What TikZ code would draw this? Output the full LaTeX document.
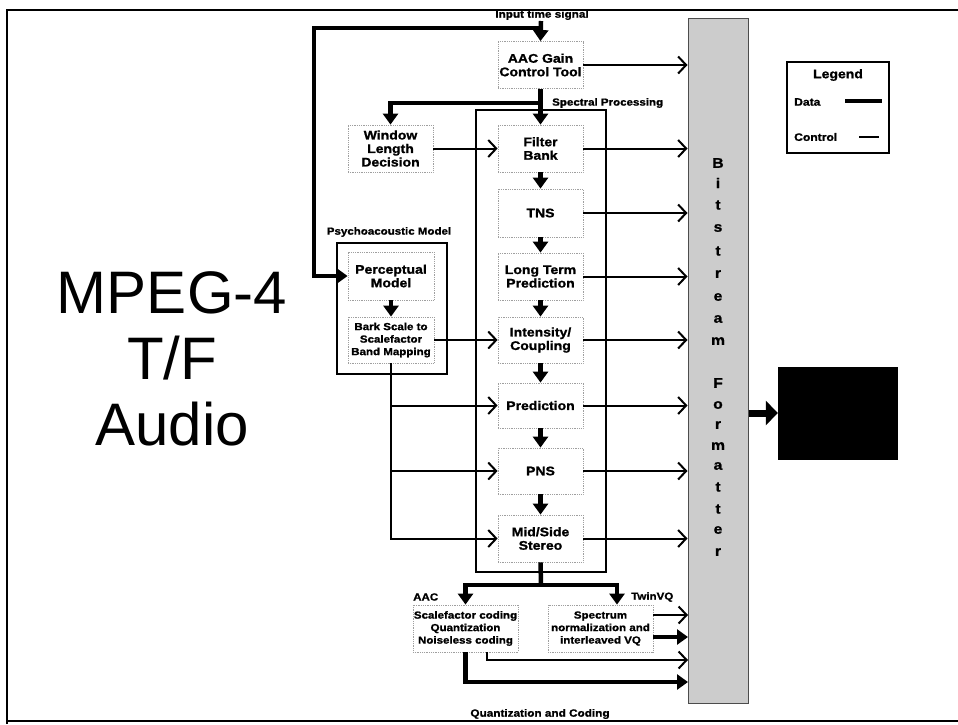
\documentclass[tikz,border=0pt]{standalone}
\usepackage{fontspec}
\setmainfont{Liberation Sans}
\newfontfamily\hv{Liberation Sans}[FakeStretch=1.12, BoldFeatures={FakeBold=1.2}]
\usetikzlibrary{arrows.meta,calc}
\begin{document}
\begin{tikzpicture}[x=1pt,y=-1pt,
  proc/.style={draw=gray!75, densely dotted, line width=0.8pt, fill=white, align=center, inner sep=1pt,
    font=\hv\bfseries\fontsize{12.5}{13.5}\selectfont, minimum width=85pt, minimum height=47pt},
  smallproc/.style={proc, font=\hv\bfseries\fontsize{10.3}{12.5}\selectfont},
  lbl/.style={font=\hv\bfseries\fontsize{10.3}{12}\selectfont, inner sep=0pt},
  solidbox/.style={draw=black, line width=1.6pt},
  data/.style={line width=4.5pt, -{Triangle[length=11pt,width=15pt]}},
  ctrl/.style={line width=2pt, -{Straight Barb[length=8pt,width=17pt]}},
  letter/.style={font=\hv\bfseries\fontsize{14}{14}\selectfont, inner sep=0pt}
]
\useasboundingbox (0,0) rectangle (958,724);
\fill[white] (0,0) rectangle (958,724);

% title
\node[font=\fontsize{60}{66}\selectfont, align=center] (title) at (172,359) {MPEG-4\\T/F\\Audio};

% container boxes
\node[solidbox, minimum width=130pt, minimum height=462pt, inner sep=0pt] (sp) at (541,341) {};
\node[solidbox, line width=2.2pt, minimum width=110pt, minimum height=131pt, inner sep=0pt] (psy) at (392,308.5) {};
\node[draw=gray!60!black, line width=1pt, fill=gray!40, minimum width=60pt, minimum height=685pt, inner sep=0pt] (bsf) at (718,360.5) {};
\node[fill=black, draw=black, minimum width=119pt, minimum height=92pt, inner sep=0pt] (out) at (837.5,413) {};

% labels
\node[lbl, anchor=west] (splbl) at (552,103) {Spectral Processing};
\node[lbl] (psylbl) at (389,232) {Psychoacoustic Model};
\node[lbl, anchor=west] (aaclbl) at (413,597) {AAC};
\node[lbl, anchor=west] (tvqlbl) at (631,597) {TwinVQ};
\node[lbl, font=\hv\bfseries\fontsize{10.5}{12}\selectfont] (qc) at (540,714) {Quantization and Coding};
\node[lbl, font=\hv\bfseries\fontsize{10.5}{12}\selectfont] (its) at (542,15) {Input time signal};

% process boxes
\node[proc] (gain) at (540.5,65) {AAC Gain\\Control Tool};
\node[proc] (wld) at (390.5,148.5) {Window\\Length\\Decision};
\node[proc] (fb) at (540.5,148.5) {Filter\\Bank};
\node[proc, minimum height=48pt] (tns) at (540.5,213) {TNS};
\node[proc] (ltp) at (540.5,276.5) {Long Term\\Prediction};
\node[proc, minimum height=46pt] (ic) at (540.5,340) {Intensity/\\Coupling};
\node[proc, minimum height=45pt] (pred) at (540.5,405.5) {Prediction};
\node[proc, minimum height=46pt] (pns) at (540.5,471) {PNS};
\node[proc] (ms) at (540.5,538.5) {Mid/Side\\Stereo};
\node[proc, minimum width=86pt, minimum height=48pt] (pm) at (391,276) {Perceptual\\Model};
\node[smallproc, minimum width=86pt, minimum height=46pt] (bark) at (391,340) {Bark Scale to\\Scalefactor\\Band Mapping};
\node[smallproc, minimum width=105pt] (aac) at (465.5,628.5) {Scalefactor coding\\Quantization\\Noiseless coding};
\node[smallproc, minimum width=105pt] (tvq) at (600.5,628.5) {Spectrum\\normalization and\\interleaved VQ};

% bitstream formatter letters
\foreach \l/\yy [count=\i] in {B/163,i/183,t/205,s/228,t/251,r/274,e/297,a/319,m/341,
  F/383,o/405,r/425,m/446,a/466,t/487,t/509,e/530,r/552}
  \node[letter] (L\i) at (718,\yy) {\l};

% legend
\node[draw=black, line width=1.2pt, minimum width=102pt, minimum height=91pt, inner sep=0pt] (legend) at (838,107.5) {};
\node[font=\hv\bfseries\fontsize{12.5}{14}\selectfont] (legt) at (838,75) {Legend};
\node[lbl, font=\hv\bfseries\fontsize{10.8}{12}\selectfont, anchor=west] (legd) at (794,102) {Data};
\node[lbl, font=\hv\bfseries\fontsize{10.8}{12}\selectfont, anchor=west] (legc) at (794,137) {Control};
\draw[line width=4pt] (845,101) -- (882,101);
\draw[line width=1.8pt] (859,137) -- (879,137);

% coordinates
\coordinate (topin) at (541,21);
\coordinate (j1) at (541,28);
\coordinate (c1) at (314,28);
\coordinate (j2) at (541,103);
\coordinate (j3) at (541,585);
\coordinate (tvqin) at (617,585);
\coordinate (q1) at (688,660);
\coordinate (q2) at (688,682);
\coordinate (t1) at (688,615);
\coordinate (t2) at (688,637);

% data connectors
\draw[data] (topin) -- (gain.north);
\draw[data] (j1) -- (c1) |- (pm.west);
\draw[data] (gain.south) -- (fb.north);
\draw[data] (j2) -| (wld.north);
\draw[data] (fb.south) -- (tns.north);
\draw[data] (tns.south) -- (ltp.north);
\draw[data] (ltp.south) -- (ic.north);
\draw[data] (ic.south) -- (pred.north);
\draw[data] (pred.south) -- (pns.north);
\draw[data] (pns.south) -- (ms.north);
\draw[data] (pm.south) -- (bark.north);
\draw[line width=4.5pt] (ms.south) -- (j3);
\draw[data] (j3) -| (aac.north);
\draw[data] (j3) -| (tvq.north -| tvqin);
\draw[data] (tvq.east |- t2) -- (t2);
\draw[data] (aac.south) |- (q2);
\draw[line width=7pt, -{Triangle[length=12pt,width=24pt]}] (bsf.east |- out.west) -- (out.west);

% control connectors
\draw[ctrl] (gain.east) -- (gain.east -| bsf.west);
\draw[ctrl] (wld.east) -- (fb.west);
\foreach \n in {fb,tns,ltp,ic,pred,pns,ms}
  \draw[ctrl] (\n.east) -- (\n.east -| bsf.west);
\draw[ctrl] (bark.east) -- (ic.west);
\draw[ctrl] (bark.south) |- (ms.west);
\draw[ctrl] (bark.south |- pred.west) -- (pred.west);
\draw[ctrl] (bark.south |- pns.west) -- (pns.west);
\draw[ctrl] (tvq.east |- t1) -- (t1);
\draw[ctrl] ($(aac.south)+(21.5,0)$) |- (q1);

% frame
\draw[line width=1.8pt] (7,724) -- (7,10) -- (958,10);
\draw[line width=1.6pt] (7,721) -- (958,721);
\end{tikzpicture}
\end{document}
